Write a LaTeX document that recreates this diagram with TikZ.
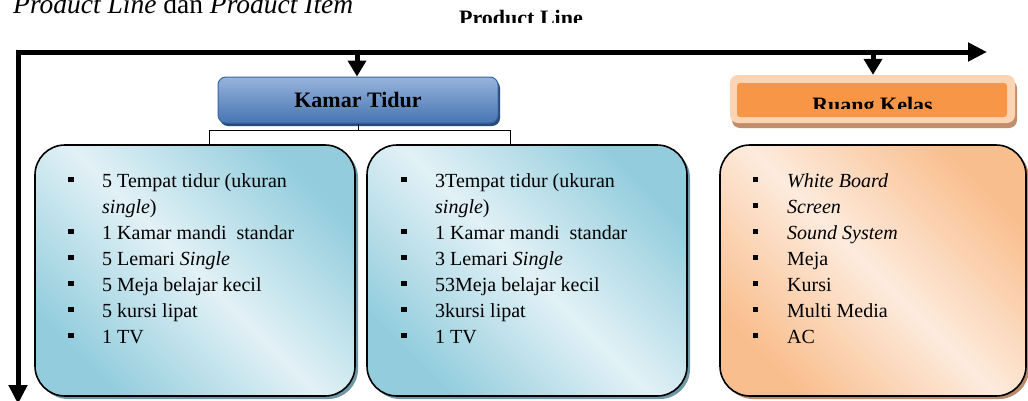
\documentclass[tikz,border=0pt]{standalone}
\usepackage{fontspec}
\setmainfont{Liberation Serif}
\usetikzlibrary{arrows.meta,shadows}
\definecolor{aquadark}{HTML}{93CDDD}
\definecolor{aqualight}{HTML}{E2F1F6}
\definecolor{orgdark}{HTML}{F9BE8D}
\definecolor{orglight}{HTML}{FDEBDD}
\definecolor{aquashadow}{HTML}{6E98A6}
\definecolor{orgshadow}{HTML}{B8896A}
\definecolor{ktop}{HTML}{98B4DC}
\definecolor{kbot}{HTML}{4674B3}
\definecolor{kborder}{HTML}{3A64A0}
\definecolor{kshadow}{HTML}{284A78}
\definecolor{rkouter}{HTML}{FBD4B4}
\definecolor{rkinner}{HTML}{F79646}
\definecolor{rkshadow}{HTML}{C08E6A}
\begin{document}
\begin{tikzpicture}[x=1pt,y=-1pt,
  bigline/.style={line width=5pt, line join=miter},
  downarrow/.style={line width=5pt, -{Triangle[length=16pt,width=18pt]}},
  listbox/.style={draw=black, line width=1.6pt, rounded corners=30pt, inner sep=0pt,
     minimum width=320pt, minimum height=251pt,
     general shadow={shadow xshift=3pt, shadow yshift=-3pt, fill=#1}},
  bluebox/.style={listbox=aquashadow, top color=aquadark, bottom color=aquadark, middle color=aqualight, shading angle=135},
  orangebox/.style={listbox=orgshadow, top color=orgdark, bottom color=orgdark, middle color=orglight, shading angle=135},
  itemtext/.style={anchor=base west, inner sep=0pt, font=\fontsize{20}{26}\selectfont},
  bul/.style={fill=black, minimum size=5.5pt, inner sep=0pt},
  bracket/.style={line width=1pt}
]
\clip (0,0) rectangle (1028,400);

% caption
\node[anchor=base west, inner sep=0pt, font=\fontsize{27.5}{30}\selectfont] (cap) at (13,13)
  {\textit{Product Line} dan \textit{Product Item}};
\begin{scope}
  \clip (0,0) rectangle (1028,22.5);
  \node[anchor=base, inner sep=0pt, font=\bfseries\fontsize{22}{24}\selectfont] (pl) at (521,25) {Product Line};
\end{scope}

% main axes
\coordinate (hend) at (987,52);
\coordinate (corner) at (18,52);
\coordinate (vend) at (18,404);
\draw[bigline, {Triangle[length=19pt,width=18pt]}-{Triangle[length=19pt,width=18pt]}] (hend) -- (corner) -- (vend);

% Kamar Tidur header
\node[draw=kborder, line width=1pt, rounded corners=8pt, top color=ktop, bottom color=kbot,
      minimum width=280pt, minimum height=46pt, inner sep=0pt,
      general shadow={shadow xshift=2pt, shadow yshift=-3pt, fill=kshadow},
      font=\bfseries\fontsize{22}{24}\selectfont] (kt) at (358,100) {Kamar Tidur};

% Ruang Kelas header
\node[fill=rkouter, rounded corners=8pt, minimum width=285pt, minimum height=48pt, inner sep=0pt,
      general shadow={shadow xshift=2pt, shadow yshift=-5pt, fill=rkshadow}] (rk) at (872.5,99) {};
\node[fill=rkinner, rounded corners=3pt, minimum width=270pt, minimum height=34pt, inner sep=0pt] (rki) at (872,100) {};
\begin{scope}
  \clip (737,83) rectangle (1007,108);
  \node[anchor=base, inner sep=0pt, font=\bfseries\fontsize{22}{24}\selectfont] (rkt) at (872.5,112.5) {Ruang Kelas};
\end{scope}

% down arrows
\coordinate (a1) at (357,52);
\coordinate (a2) at (873,52);
\draw[downarrow] (a1) -- (a1 |- kt.north);
\draw[downarrow] (a2) -- (a2 |- rk.north);

% item boxes
\node[bluebox] (lb) at (195,270.5) {};
\node[bluebox] (mb) at (527,270.5) {};
\node[orangebox, minimum width=306pt] (rb) at (873,270.5) {};

% bracket connector
\coordinate (kjl) at (209,130);
\coordinate (kjr) at (510,130);
\draw[bracket] (kt.south) -- (kt.south |- kjl);
\draw[bracket] (lb.north -| kjl) -- (kjl) -- (kjr) -- (mb.north -| kjr);

% left list
\foreach \yy/\txt [count=\i] in {187/{5 Tempat tidur (ukuran}, 213/{\textit{single})}, 239/{1 Kamar mandi\ \ standar},
   265/{5 Lemari \textit{Single}}, 291/{5 Meja belajar kecil}, 317/{5 kursi lipat}, 343/{1 TV}}
   \node[itemtext] (lt\i) at (102,\yy) {\txt};
\foreach \yy [count=\i] in {187,239,265,291,317,343}
   \node[bul] (lbul\i) at (71,\yy-7.5) {};

% middle list
\foreach \yy/\txt [count=\i] in {187/{3Tempat tidur (ukuran}, 213/{\textit{single})}, 239/{1 Kamar mandi\ \ standar},
   265/{3 Lemari \textit{Single}}, 291/{53Meja belajar kecil}, 317/{3kursi lipat}, 343/{1 TV}}
   \node[itemtext] (mt\i) at (435,\yy) {\txt};
\foreach \yy [count=\i] in {187,239,265,291,317,343}
   \node[bul] (mbul\i) at (404,\yy-7.5) {};

% right list
\foreach \yy/\txt [count=\i] in {187/{\textit{White Board}}, 213/{\textit{Screen}}, 239/{\textit{Sound System}},
   265/{Meja}, 291/{Kursi}, 317/{Multi Media}, 343/{AC}}
   \node[itemtext] (rt\i) at (787,\yy) {\txt};
\foreach \yy [count=\i] in {187,213,239,265,291,317,343}
   \node[bul] (rbul\i) at (755.5,\yy-7.5) {};
\end{tikzpicture}
\end{document}
